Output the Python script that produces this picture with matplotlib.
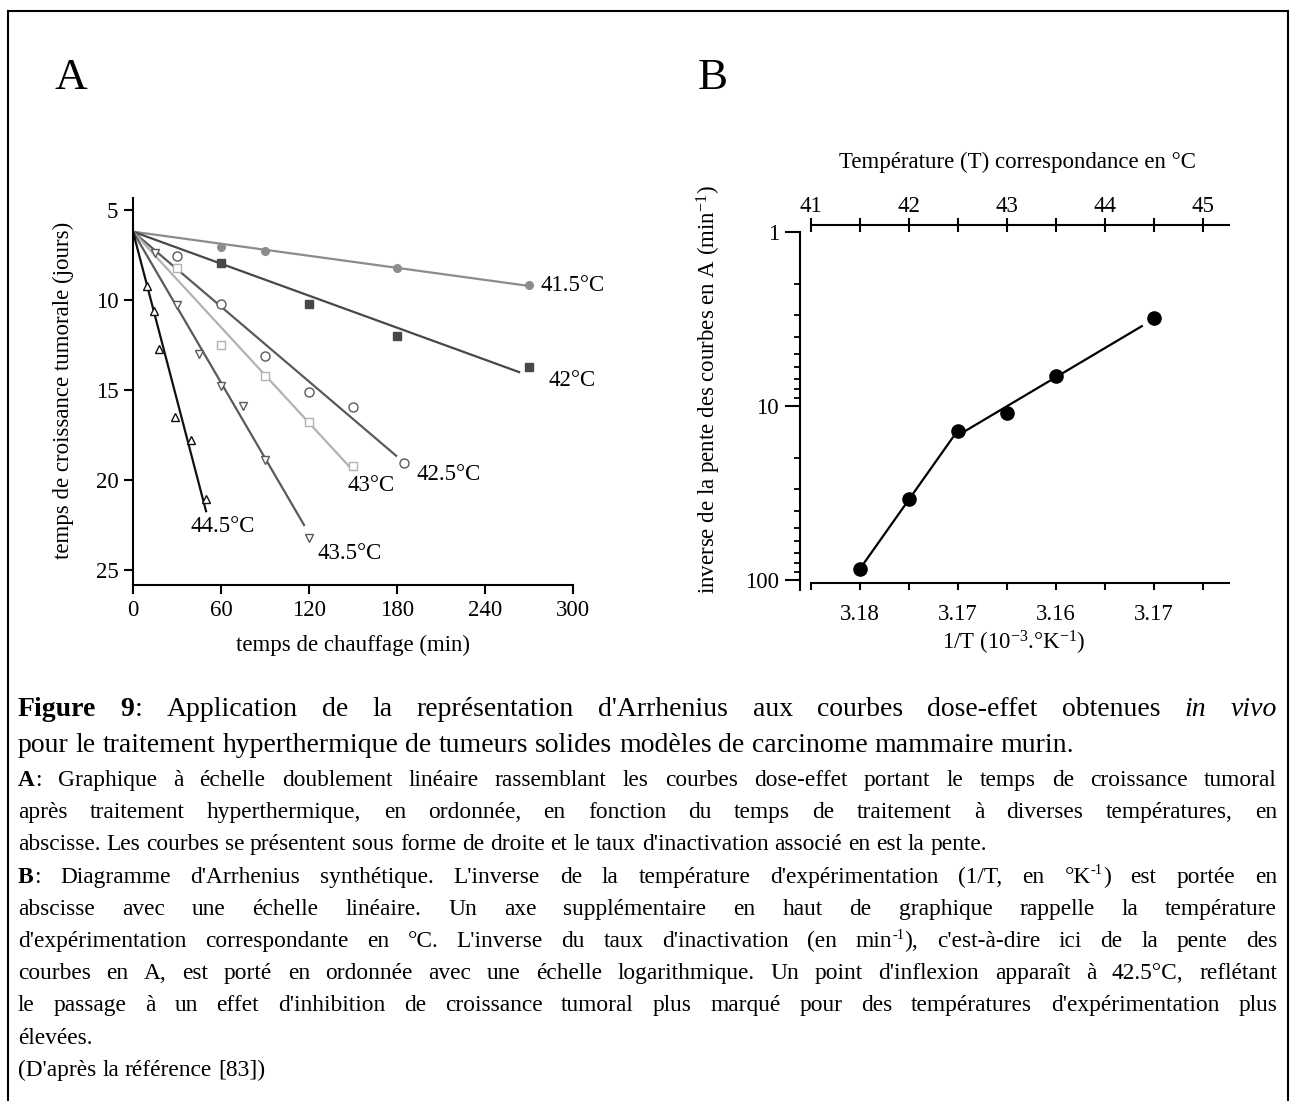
import re
import numpy as np
import matplotlib
matplotlib.use('Agg')
import matplotlib.pyplot as plt
from matplotlib.lines import Line2D
from matplotlib.ticker import FixedLocator, FixedFormatter, NullFormatter

# ---------------- data: panel A ----------------
heating_ticks = [0, 60, 120, 180, 240, 300]
growth_ticks = [5, 10, 15, 20, 25]
growth_at_zero = 6.2

temp_labels = ['41.5°C', '42°C', '42.5°C', '43°C', '43.5°C', '44.5°C']
t_415 = [60, 90, 180, 270]
g_415 = [7.05, 7.3, 8.2, 9.15]
t_42 = [60, 120, 180, 270]
g_42 = [7.95, 10.2, 12.0, 13.7]
t_425 = [30, 60, 90, 120, 150, 185]
g_425 = [7.55, 10.2, 13.1, 15.1, 15.95, 19.05]
t_43 = [30, 60, 90, 120, 150]
g_43 = [8.2, 12.5, 14.2, 16.8, 19.2]
t_435 = [15, 30, 45, 60, 75, 90, 120]
g_435 = [7.4, 10.3, 13.0, 14.8, 15.9, 18.9, 23.2]
t_445 = [9.5, 14, 18, 28.5, 39.5, 49.5]
g_445 = [9.2, 10.6, 12.7, 16.5, 17.8, 21.05]
fit_end_times = [270, 264, 180, 150, 117, 50]

# ---------------- data: panel B ----------------
temps_C = [41.5, 42.0, 42.5, 43.0, 43.5, 44.5]
inv_slope = [87, 34.3, 13.9, 11.0, 6.75, 3.12]
top_ticks = [41, 42, 43, 44, 45]
top_minor = [41.5, 42.5, 43.5, 44.5]
bottom_tick_pos = [41.5, 42.5, 43.5, 44.5]
bottom_tick_labels = ['3.18', '3.17', '3.16', '3.17']
bottom_minor = [41, 42, 43, 44, 45]
log_ticks = [1, 10, 100]
log_tick_labels = ['1', '10', '100']
fit_groups = [(0, 3), (2, 6)]

# ---------------- caption text ----------------
caption_big = [
    "*Figure* *9*: Application de la représentation d'Arrhenius aux courbes dose-effet obtenues _in_ _vivo_",
    "pour le traitement hyperthermique de tumeurs solides modèles de carcinome mammaire murin.",
]
caption_small = [
    "*A*: Graphique à échelle doublement linéaire rassemblant les courbes dose-effet portant le temps de croissance tumoral",
    "après traitement hyperthermique, en ordonnée, en fonction du temps de traitement à diverses températures, en",
    "abscisse. Les courbes se présentent sous forme de droite et le taux d'inactivation associé en est la pente.",
    "*B*: Diagramme d'Arrhenius synthétique. L'inverse de la température d'expérimentation (1/T, en °K^-1^) est portée en",
    "abscisse avec une échelle linéaire. Un axe supplémentaire en haut de graphique rappelle la température",
    "d'expérimentation correspondante en °C. L'inverse du taux d'inactivation (en min^-1^), c'est-à-dire ici de la pente des",
    "courbes en A, est porté en ordonnée avec une échelle logarithmique. Un point d'inflexion apparaît à 42.5°C, reflétant",
    "le passage à un effet d'inhibition de croissance tumoral plus marqué pour des températures d'expérimentation plus",
    "élevées.",
    "(D'après la référence [83])",
]
big_justify = [True, False]
small_justify = [True, True, False, True, True, True, True, True, False, False]

# ---------------- style ----------------
SERIF = ['Liberation Serif', 'DejaVu Serif']
plt.rcParams['font.family'] = SERIF
plt.rcParams['mathtext.fontset'] = 'custom'
plt.rcParams['mathtext.rm'] = 'Liberation Serif'
plt.rcParams['mathtext.it'] = 'Liberation Serif:italic'
plt.rcParams['mathtext.bf'] = 'Liberation Serif:bold'
FS = 16.5

W, H = 1292, 1101
fig = plt.figure(figsize=(W / 100, H / 100), dpi=100)


def fx(px):
    return px / W


def fy(py):
    return 1 - py / H


def add_axes_px(left, top, right, bottom):
    return fig.add_axes([fx(left), fy(bottom), (right - left) / W, (bottom - top) / H])


# border
for xs_, ys_ in [((8, 8), (1110, 11)), ((8, 1288), (11, 11)), ((1288, 1288), (11, 1110))]:
    fig.add_artist(Line2D([fx(v) for v in xs_], [fy(v) for v in ys_], color='black', lw=1.5,
                          transform=fig.transFigure))

# ---------------- panel A ----------------
axA = add_axes_px(133, 198, 573, 585)
axA.set_xlim(0, 300)
axA.set_ylim(25.83, 4.33)
for s in ['top', 'right']:
    axA.spines[s].set_visible(False)
for s in ['left', 'bottom']:
    axA.spines[s].set_linewidth(1.5)
axA.set_xticks(heating_ticks)
axA.set_yticks(growth_ticks)
axA.tick_params(direction='out', length=6.5, width=1.5, labelsize=FS, pad=4)

styles = [
    dict(color='#8c8c8c', marker='o', mfc='#8c8c8c', ms=5.5),
    dict(color='#484848', marker='s', mfc='#484848', ms=5.5),
    dict(color='#5a5a5a', marker='o', mfc='white', ms=6.5),
    dict(color='#b2b2b2', marker='s', mfc='white', ms=6.2),
    dict(color='#5a5a5a', marker='v', mfc='white', ms=6),
    dict(color='#111111', marker='^', mfc='white', ms=6),
]
label_pos = [(278, 9.2), (283, 14.45), (193.5, 19.7), (146, 20.3), (125.5, 24.1), (39, 22.6)]
series_t = [t_415, t_42, t_425, t_43, t_435, t_445]
series_g = [g_415, g_42, g_425, g_43, g_435, g_445]

for t, g, st, tend, lab, lp in zip(series_t, series_g, styles, fit_end_times, temp_labels, label_pos):
    t = np.asarray(t, float)
    g = np.asarray(g, float)
    slope = np.sum(t * (g - growth_at_zero)) / np.sum(t * t)
    xs = np.array([0.0, tend])
    axA.plot(xs, growth_at_zero + slope * xs, color=st['color'], lw=1.6,
             solid_capstyle='butt', zorder=2, clip_on=False)
    axA.plot(t, g, ls='none', marker=st['marker'], mfc=st['mfc'], mec=st['color'],
             mew=1.0, ms=st['ms'], zorder=3, clip_on=False)
    axA.text(lp[0], lp[1], lab, fontsize=FS, ha='left', va='center', clip_on=False)

fig.text(fx(63), fy(390), 'temps de croissance tumorale (jours)', rotation=90,
         ha='center', va='center', fontsize=FS)
fig.text(fx(353), fy(645), 'temps de chauffage (min)', ha='center', va='center', fontsize=FS)
fig.text(fx(71), fy(78), 'A', ha='center', va='center', fontsize=32.5)
fig.text(fx(713), fy(78), 'B', ha='center', va='center', fontsize=32.5)

# ---------------- panel B ----------------
axB = add_axes_px(800, 225, 1229, 590)
axB.set_yscale('log')
axB.set_xlim(40.89, 45.27)
ytop = 10 ** (-7 / 174)
ybot = 10 ** ((590 - 232) / 174)
axB.set_ylim(ybot, ytop)
ybottom_axis = 10 ** ((583 - 232) / 174)

axB.spines['right'].set_visible(False)
axB.spines['top'].set_visible(False)
axB.spines['left'].set_bounds(1, ybot)
axB.spines['bottom'].set_position(('data', ybottom_axis))
axB.spines['bottom'].set_bounds(41, 45.27)
for s in ['left', 'bottom']:
    axB.spines[s].set_linewidth(1.5)

axB.xaxis.set_major_locator(FixedLocator(bottom_tick_pos))
axB.xaxis.set_major_formatter(FixedFormatter(bottom_tick_labels))
axB.xaxis.set_minor_locator(FixedLocator(bottom_minor))
axB.tick_params(axis='x', which='both', direction='out', length=5, width=1.5, labelsize=FS, pad=10)

axB.yaxis.set_major_locator(FixedLocator(log_ticks))
axB.yaxis.set_major_formatter(FixedFormatter(log_tick_labels))
minor_y = [m * d for d in (1, 10) for m in range(2, 10)]
axB.yaxis.set_minor_locator(FixedLocator(minor_y))
axB.yaxis.set_minor_formatter(NullFormatter())
axB.tick_params(axis='y', which='major', direction='out', length=11, width=1.5, labelsize=FS, pad=4)
axB.tick_params(axis='y', which='minor', direction='out', length=4.5, width=1.3)

secx = axB.secondary_xaxis('top')
secx.xaxis.set_major_locator(FixedLocator(top_ticks))
secx.xaxis.set_minor_locator(FixedLocator(top_minor))
secx.tick_params(axis='x', which='both', direction='inout', length=10, width=1.5, labelsize=FS, pad=1)
secx.spines['top'].set_linewidth(1.5)
secx.spines['top'].set_bounds(41, 45.27)

x_arr = np.asarray(temps_C)
y_arr = np.asarray(inv_slope)
for k, (i0, i1) in enumerate(fit_groups):
    coef = np.polyfit(x_arr[i0:i1], np.log10(y_arr[i0:i1]), 1)
    xa = x_arr[i0] + (0.05 if k > 0 else 0.0)
    xb = x_arr[i1 - 1] - (0.05 if k == 0 else 0.12)
    xx = np.array([xa, xb])
    axB.plot(xx, 10 ** np.polyval(coef, xx), color='black', lw=1.6, zorder=2)
axB.plot(x_arr, y_arr, ls='none', marker='o', color='black', ms=9.5, zorder=3, clip_on=False)

fig.text(fx(709), fy(390), r'inverse de la pente des courbes en A (min$^{-1}$)', rotation=90,
         ha='center', va='center', fontsize=FS)
fig.text(fx(1014), fy(643), r'1/T (10$^{-3}$.°K$^{-1}$)', ha='center', va='center', fontsize=FS)
fig.text(fx(1017), fy(162), 'Température (T) correspondance en °C', ha='center', va='center', fontsize=FS)

# ---------------- caption ----------------
renderer = fig.canvas.get_renderer()
X0, X1 = 18, 1277


def parse_word(word):
    runs = []
    for part in re.split(r'(\*[^*]+\*|_[^_]+_|\^[^^]+\^)', word):
        if not part:
            continue
        if len(part) > 2 and part[0] == '*' and part[-1] == '*':
            runs.append((part[1:-1], 'bold'))
        elif len(part) > 2 and part[0] == '_' and part[-1] == '_':
            runs.append((part[1:-1], 'italic'))
        elif len(part) > 2 and part[0] == '^' and part[-1] == '^':
            runs.append((part[1:-1], 'sup'))
        else:
            runs.append((part, 'normal'))
    return runs


def run_props(kind, size):
    d = dict(fontsize=size, family=SERIF)
    if kind == 'bold':
        d['fontweight'] = 'bold'
    if kind == 'italic':
        d['fontstyle'] = 'italic'
    if kind == 'sup':
        d['fontsize'] = size * 0.62
    return d


def measure(text, props):
    t = fig.text(0, 0, text, **props)
    w = t.get_window_extent(renderer).width
    t.remove()
    return w


def word_widths(line, size):
    words = [parse_word(w) for w in line.split(' ')]
    widths = [[measure(t, run_props(k, size)) for t, k in runs] for runs in words]
    return words, widths


def space_px(size):
    return 0.25 * size * 100 / 72


def natural_width(line, size):
    words, widths = word_widths(line, size)
    return sum(sum(w) for w in widths) + space_px(size) * (len(words) - 1)


def draw_line(line, baseline, size, justify):
    words, widths = word_widths(line, size)
    tot = sum(sum(w) for w in widths)
    if justify and len(words) > 1:
        gap = (X1 - X0 - tot) / (len(words) - 1)
    else:
        gap = space_px(size)
    x = X0
    for runs, ws in zip(words, widths):
        for (t, k), w in zip(runs, ws):
            dy = 0.36 * size * 100 / 72 if k == 'sup' else 0.0
            fig.text(fx(x), fy(baseline - dy), t, ha='left', va='baseline', **run_props(k, size))
            x += w
        x += gap


size_big = 1.07 * 10 * 983 / natural_width(caption_big[1], 10)
size_small = 1.06 * 10 * 913 / natural_width(caption_small[2], 10)

big_baselines = [716, 752]
for line, b, j in zip(caption_big, big_baselines, big_justify):
    draw_line(line, b, size_big, j)
for i, (line, j) in enumerate(zip(caption_small, small_justify)):
    draw_line(line, 786 + 32.2 * i, size_small, j)

fig.savefig('out.png', dpi=100)
